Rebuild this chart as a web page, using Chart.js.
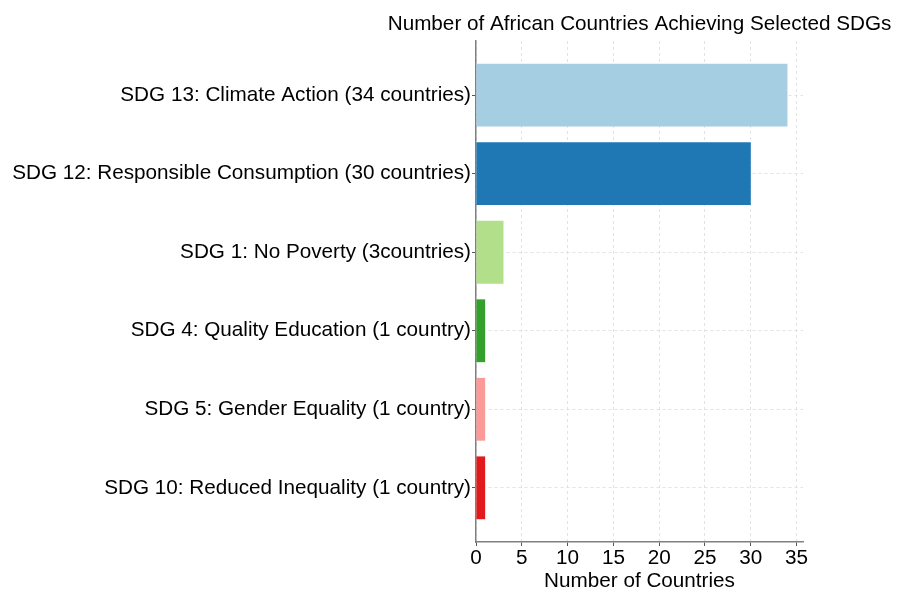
<!DOCTYPE html>
<html>
<head>
<meta charset="utf-8">
<script src="https://cdn.jsdelivr.net/npm/chart.js@4/dist/chart.umd.min.js"></script>
<style>
  html, body { margin: 0; padding: 0; background: #fff; }
  #wrap { width: 903px; height: 592px; }
</style>
</head>
<body>
<div id="wrap"><canvas id="c" width="903" height="592"></canvas></div>
<script>
// SDG goals and how many African countries achieve each
const goals = [
  'SDG 13: Climate Action (34 countries)',
  'SDG 12: Responsible Consumption (30 countries)',
  'SDG 1: No Poverty (3countries)',
  'SDG 4: Quality Education (1 country)',
  'SDG 5: Gender Equality (1 country)',
  'SDG 10: Reduced Inequality (1 country)'
];
const countries = [34, 30, 3, 1, 1, 1];
const barColors = ['#a6cee3', '#1f78b4', '#b2df8a', '#33a02c', '#fb9a99', '#e31a1c'];
const xTicks = [0, 5, 10, 15, 20, 25, 30, 35];

const FONT = "'Liberation Sans', Arial, Helvetica, sans-serif";
const FS = 20.7;

// title centred over the plotting area
const titlePlugin = {
  id: 'axesTitle',
  afterDraw(chart) {
    const { ctx, chartArea } = chart;
    ctx.save();
    ctx.font = `${FS}px ${FONT}`;
    ctx.fillStyle = '#000';
    ctx.textAlign = 'center';
    ctx.textBaseline = 'middle';
    ctx.fillText('Number of African Countries Achieving Selected SDGs',
      (chartArea.left + chartArea.right) / 2, 24);
    ctx.restore();
  }
};

const gridStyle = {
  color: '#dcdcdc',
  lineWidth: 0.8,
  offset: false,
  drawTicks: true,
  tickLength: 4,
  tickColor: '#555',
  tickWidth: 1,
  tickBorderDash: []
};

new Chart(document.getElementById('c'), {
  type: 'bar',
  data: {
    datasets: [{
      data: countries.map((v, i) => ({ x: v, y: i })),
      backgroundColor: barColors,
      borderWidth: 0,
      categoryPercentage: 0.8,
      barPercentage: 1.0
    }]
  },
  options: {
    indexAxis: 'y',
    responsive: false,
    animation: false,
    layout: { padding: { top: 41, right: 100, left: 0, bottom: 0 } },
    plugins: { legend: { display: false }, tooltip: { enabled: false } },
    scales: {
      x: {
        type: 'linear',
        min: 0,
        max: 35.7,
        afterBuildTicks(scale) { scale.ticks = xTicks.map(v => ({ value: v })); },
        afterFit(scale) { scale.height = 50; },
        ticks: { color: '#000', font: { family: FONT, size: FS }, padding: 0, maxRotation: 0 },
        grid: gridStyle,
        border: { display: true, color: '#808080', width: 1.5, dash: [3, 3] },
        title: {
          display: true,
          text: 'Number of Countries',
          color: '#000',
          font: { family: FONT, size: FS },
          padding: { top: 0, bottom: -2 }
        }
      },
      y: {
        type: 'linear',
        reverse: true,
        offset: false,
        min: -0.69,
        max: 5.69,
        afterBuildTicks(scale) { scale.ticks = goals.map((g, i) => ({ value: i })); },
        afterFit(scale) { scale.width = 476; },
        ticks: {
          color: '#000',
          font: { family: FONT, size: FS },
          padding: 1,
          callback: (v) => goals[v]
        },
        grid: gridStyle,
        border: { display: true, color: '#808080', width: 1.5, dash: [3, 3] }
      }
    }
  },
  plugins: [titlePlugin]
});
</script>
</body>
</html>
